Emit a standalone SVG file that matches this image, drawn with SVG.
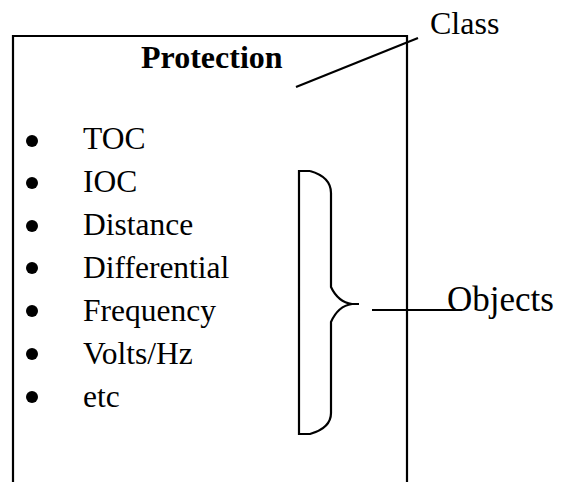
<svg xmlns="http://www.w3.org/2000/svg" width="565" height="482" viewBox="0 0 565 482">
<style>
.ln{fill:none;stroke:#000;stroke-width:2.2}
.t{font-family:"Liberation Serif","Times New Roman",serif;fill:#000}
.item{font-size:31.5px}
.b{fill:#000}
</style>
<rect width="565" height="482" fill="#fff"/>
<g id="class-box">
<path class="ln" d="M13,484 V36 H407 V484"/>
<text class="t" x="141" y="68" font-size="32" font-weight="bold">Protection</text>
</g>
<g id="objects-list">
<circle class="b" cx="32" cy="141" r="6"/><text class="t item" x="83" y="149">TOC</text>
<circle class="b" cx="32" cy="183" r="6"/><text class="t item" x="83" y="192">IOC</text>
<circle class="b" cx="32" cy="226" r="6"/><text class="t item" x="83" y="235">Distance</text>
<circle class="b" cx="32" cy="268" r="6"/><text class="t item" x="83" y="278">Differential</text>
<circle class="b" cx="32" cy="311" r="6"/><text class="t item" x="83" y="321">Frequency</text>
<circle class="b" cx="32" cy="354" r="6"/><text class="t item" x="83" y="364">Volts/Hz</text>
<circle class="b" cx="32" cy="397" r="6"/><text class="t item" x="83" y="407">etc</text>
</g>
<g id="brace">
<path class="ln" d="M310,171 H299 V434 H310 Q331,428 331,413 V322 Q338,306 352,304 H359 M352,304 Q338,302 331,287 V193 Q331,177 310,171"/>
</g>
<g id="label-class">
<text class="t" x="430" y="34" font-size="32">Class</text>
</g>
<g id="label-objects">
<text class="t" x="447" y="311" font-size="35">Objects</text>
</g>
<g id="connectors">
<line class="ln" x1="296" y1="87" x2="418" y2="38"/>
<line class="ln" x1="372" y1="310" x2="462" y2="310"/>
</g>
</svg>
